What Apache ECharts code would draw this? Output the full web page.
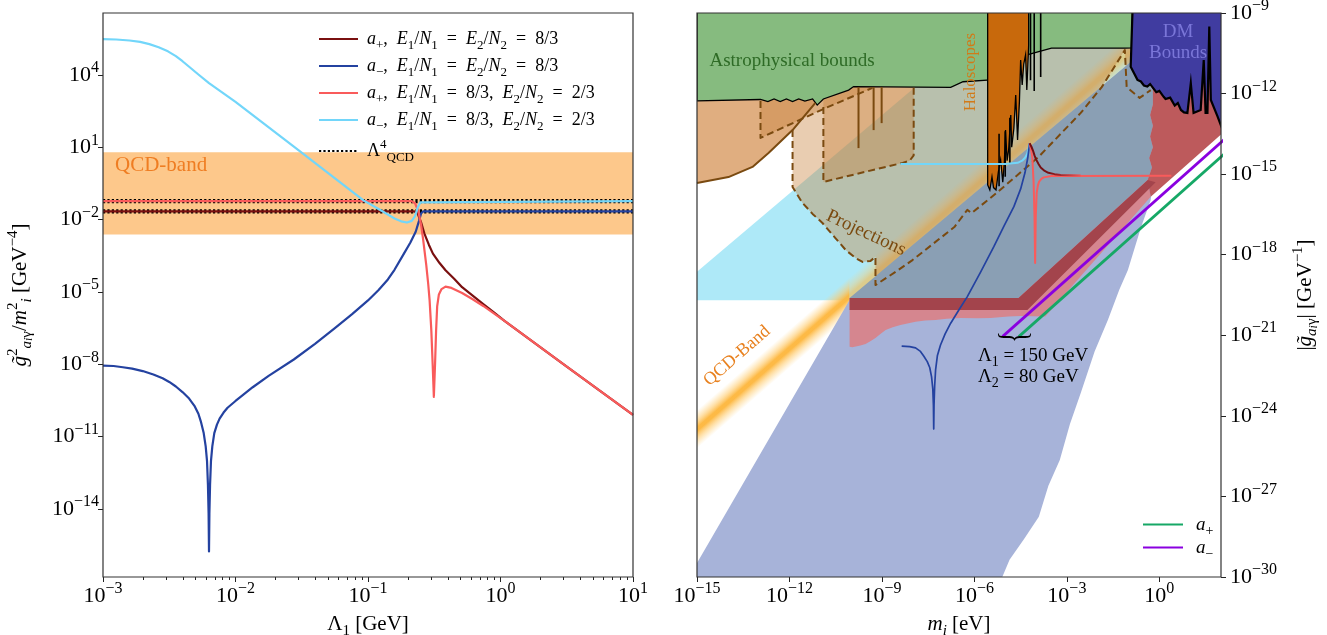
<!DOCTYPE html>
<html>
<head>
<meta charset="utf-8">
<title>axion couplings</title>
<script src="https://cdn.jsdelivr.net/npm/echarts@6.0.0/dist/echarts.min.js"></script>
<style>
  html, body { margin: 0; background: #fff; }
  #chart { width: 1327px; height: 635px; }
</style>
</head>
<body>
<div id="chart"></div>
<script>
// every number here is a log10 exponent

// left panel: g^2/m^2 [GeV^-4] against Lambda_1 [GeV]
const lamTicks = [-3, -2, -1, 0, 1];
const ratioTicks = [-14, -11, -8, -5, -2, 1, 4];
const qcdBandLeft = [-2.62, 0.79];
const lambdaQcdLevels = [-1.23, -1.66];

const plusEqual = [[-3, -1.66], [-0.65, -1.66], [-0.625, -1.75], [-0.6, -2.1], [-0.575, -2.57], [-0.54, -3.05],
  [-0.51, -3.41], [-0.46, -3.8], [-0.415, -4.1], [-0.35, -4.45], [-0.29, -4.8], [-0.21, -5.15], [-0.13, -5.5],
  [-0.05, -5.85], [0.03, -6.2], [0.5, -8.1], [1, -10.1]];
const minusEqual = [[-3, -8.05], [-2.92, -8.07], [-2.85, -8.12], [-2.78, -8.18], [-2.7, -8.28], [-2.62, -8.42],
  [-2.55, -8.58], [-2.5, -8.73], [-2.45, -8.92], [-2.4, -9.15], [-2.35, -9.42], [-2.31, -9.72], [-2.28, -10.05],
  [-2.26, -10.4], [-2.24, -10.85], [-2.225, -11.4], [-2.215, -12.0], [-2.208, -13.0], [-2.203, -14.2], [-2.2, -15.76],
  [-2.197, -14.2], [-2.192, -13.0], [-2.185, -12.0], [-2.175, -11.4], [-2.16, -10.85], [-2.14, -10.5], [-2.12, -10.25],
  [-2.09, -10.0], [-2.06, -9.8], [-2.0, -9.52], [-1.95, -9.3], [-1.87, -8.95], [-1.75, -8.48], [-1.56, -7.8],
  [-1.4, -7.15], [-1.25, -6.5], [-1.12, -5.92], [-1.0, -5.35], [-0.92, -4.92], [-0.85, -4.48], [-0.8, -4.08],
  [-0.73, -3.42], [-0.68, -2.95], [-0.64, -2.5], [-0.615, -2.05], [-0.6, -1.75], [-0.585, -1.66], [1, -1.66]];
const plusSplit = [[-3, -1.23], [-0.67, -1.23], [-0.645, -1.32], [-0.62, -1.65], [-0.6, -2.2], [-0.583, -2.86],
  [-0.56, -3.9], [-0.545, -4.7], [-0.535, -5.35], [-0.522, -6.6], [-0.512, -8.0], [-0.503, -9.35], [-0.494, -8.0],
  [-0.486, -6.6], [-0.478, -5.6], [-0.465, -5.1], [-0.445, -4.88], [-0.415, -4.78], [-0.37, -4.83], [-0.29, -5.04],
  [-0.21, -5.3], [-0.13, -5.58], [-0.05, -5.89], [0.03, -6.2], [0.5, -8.1], [1, -10.1]];
const minusSplit = [[-3, 5.49], [-2.9, 5.47], [-2.8, 5.43], [-2.72, 5.37], [-2.65, 5.28], [-2.58, 5.15], [-2.51, 4.98],
  [-2.45, 4.78], [-2.4, 4.57], [-2.35, 4.34], [-2.28, 4.02], [-2.2, 3.66], [-2.0, 2.88], [-1.557, 1.02],
  [-1.034, -1.2], [-0.907, -1.6], [-0.8, -1.95], [-0.75, -2.07], [-0.706, -2.12], [-0.67, -2.05], [-0.645, -1.85],
  [-0.625, -1.5], [-0.605, -1.28], [-0.59, -1.23], [1, -1.23]];

// right panel: |g| [GeV^-1] against m_i [eV]
const massTicks = [-15, -12, -9, -6, -3, 0];
const couplingTicks = [-30, -27, -24, -21, -18, -15, -12, -9];

const cyanRegion = [[-15, -19.7], [-15, -18.63], [-7.91, -11.75], [-5.2, -9], [-0.5, -9], [-0.3, -15.5], [-4.56, -19.7]];
const tanRegion = [[-15, -12.0], [-15, -15.33], [-13.98, -15.11], [-13.2, -14.73], [-12.68, -14.21], [-11.9, -13.36],
  [-11.16, -12.35], [-10.9, -12.0]];
const tanEdge = [[-15, -15.33], [-13.98, -15.11], [-13.2, -14.73], [-12.68, -14.21], [-11.9, -13.36], [-11.16, -12.35]];
const projMainEdge = [[-11.9, -13.36], [-11.9, -15.48], [-11.58, -16.07], [-11.25, -16.48], [-10.93, -16.82],
  [-10.51, -17.38], [-10.18, -17.82], [-9.86, -18.12], [-9.63, -18.27], [-9.37, -18.23], [-9.21, -18.08],
  [-9.21, -19.13], [-8.56, -18.64], [-8.01, -18.2], [-6.65, -16.97], [-6.23, -16.33], [-6.09, -16.45],
  [-5.28, -15.7], [-3.92, -14.36], [-2.55, -12.72], [-1.87, -11.76], [-1.12, -10.38], [-1.06, -11.76],
  [-0.64, -12.16], [-0.28, -11.87]];
const projMainTop = [[-0.28, -10.0], [-11.16, -10.0], [-11.16, -12.35]];
const projBoxEdge = [[-10.9, -12.5], [-10.9, -15.29], [-8.33, -14.58], [-8.1, -14.5], [-7.97, -14.3], [-7.97, -11.76]];
const projStepEdge = [[-12.94, -12.28], [-12.94, -13.65], [-10.83, -12.54], [-9.31, -11.79]];
const projRods = [[[-9.76, -11.76], [-9.76, -14.03]], [[-9.27, -11.76], [-9.27, -13.36]], [[-9.01, -11.76], [-9.01, -13.1]]];
const lavenderRegion = [[-15, -30.5], [-15, -29.48], [-10.05, -19.69], [-0.93, -10.82], [-0.21, -11.87],
  [-0.21, -15.22], [-0.28, -15.96], [-0.6, -17.0], [-1.02, -18.57], [-1.3, -19.3], [-1.67, -20.43], [-2.1, -21.6],
  [-2.55, -23.15], [-2.9, -24.3], [-3.23, -25.64], [-3.6, -26.6], [-3.91, -27.76], [-4.4, -28.6], [-4.86, -29.36],
  [-5.28, -30.5]];
const slateRegion = [[-10.05, -19.61], [-0.93, -10.82], [-0.21, -11.87], [-0.21, -12.4], [-0.3, -12.8], [-0.21, -13.2],
  [-0.3, -13.6], [-0.21, -14.0], [-0.33, -14.4], [-0.24, -14.75], [-0.38, -15.22], [-4.57, -19.61]];
const pinkRegion = [[-10.05, -19.8], [-10.05, -21.43], [-9.96, -21.45], [-9.7, -21.38], [-9.53, -21.32], [-9.35, -21.2],
  [-9.21, -21.1], [-9.05, -20.95], [-8.88, -20.8], [-8.65, -20.7], [-8.4, -20.62], [-7.91, -20.5], [-7.6, -20.45],
  [-7.26, -20.43], [-6.9, -20.38], [-6.45, -20.36], [-5.9, -20.37], [-5.47, -20.36], [-4.9, -20.3], [-4.5, -20.28],
  [-3.7, -20.3], [-0.28, -15.84], [-0.38, -15.22], [-4.57, -19.61], [-10.05, -19.61]];
const redRegion = [[-0.38, -15.22], [-0.24, -14.75], [-0.33, -14.4], [-0.21, -14.0], [-0.3, -13.6], [-0.21, -13.2],
  [-0.3, -12.8], [-0.21, -12.4], [-0.21, -11.87], [-0.7, -10.9], [2.1, -10.9], [2.1, -13.42], [-0.28, -15.84]];
const redBand = [[-10.05, -19.61], [-4.57, -19.61], [-0.38, -15.22], [-0.12, -15.3], [-4.28, -20.06], [-10.05, -20.06]];
const astroRegion = [[-15, -8.9], [-0.87, -8.9], [-0.9, -10.3], [-1.12, -10.31], [-3.5, -10.31], [-4.53, -10.63],
  [-5.47, -11.49], [-6.37, -11.56], [-6.77, -11.77], [-9.92, -11.74], [-10.08, -11.87], [-10.9, -12.2],
  [-11.1, -12.43], [-11.25, -12.2], [-11.5, -12.28], [-11.7, -12.2], [-11.9, -12.3], [-12.1, -12.2], [-12.3, -12.3],
  [-12.5, -12.2], [-12.7, -12.3], [-12.94, -12.22], [-15, -12.27]];
const haloRegion = [[-5.57, -8.9], [-5.57, -15.4], [-5.5, -15.59], [-5.43, -15.1], [-5.38, -15.5], [-5.3, -15.59],
  [-5.22, -14.9], [-5.15, -14.47], [-5.08, -15.3], [-5.03, -14.6], [-4.99, -13.36], [-4.94, -14.5], [-4.89, -14.1],
  [-4.82, -12.8], [-4.79, -14.0], [-4.72, -13.3], [-4.66, -12.05], [-4.6, -13.73], [-4.54, -12.3], [-4.5, -10.75],
  [-4.45, -11.68], [-4.4, -10.9], [-4.34, -10.56], [-4.3, -11.87], [-4.24, -10.2], [-4.24, -8.9]];
const haloRods = [[[-4.18, -9], [-4.18, -11.5]], [[-4.06, -9], [-4.06, -11.9]], [[-3.85, -9], [-3.85, -11.38]],
  [[-5.2, -13.5], [-5.2, -15.45]], [[-5.0, -13.4], [-5.0, -15.1]], [[-4.85, -12.9], [-4.85, -14.6]]];
const dmRegion = [[-0.87, -8.9], [-0.93, -11.0], [-0.71, -11.49], [-0.6, -11.55], [-0.5, -11.7], [-0.39, -11.74],
  [-0.3, -11.65], [-0.1, -11.95], [0.0, -11.9], [0.14, -12.12], [0.2, -12.2], [0.35, -12.15], [0.5, -12.45],
  [0.6, -12.35], [0.7, -12.61], [0.8, -12.7], [0.91, -12.72], [1.02, -11.61], [1.11, -12.72], [1.34, -12.61],
  [1.44, -10.75], [1.5, -12.72], [1.56, -12.72], [1.62, -9.5], [1.67, -12.24], [1.89, -12.86], [2.1, -13.5], [2.1, -8.9]];
// QCD band centre line: bright part below the blue corner, muted part above it
const qcdBandLow = [[-16, -25.5], [-10.05, -19.55]];
const qcdBandHigh = [[-10.05, -19.55], [-0.9, -10.4]];
const qcdBandHalf = 0.72;

const cyanCurve = [[-8.4, -14.62], [-5.0, -14.62], [-4.6, -14.58], [-4.45, -14.5], [-4.35, -14.38], [-4.29, -14.25],
  [-4.25, -14.08], [-4.21, -13.85]];
const blueCurve = [[-8.36, -21.4], [-8.1, -21.42], [-7.91, -21.47], [-7.75, -21.6], [-7.64, -21.78], [-7.53, -21.98],
  [-7.45, -22.2], [-7.39, -22.55], [-7.35, -23.0], [-7.33, -23.6], [-7.32, -24.49], [-7.31, -23.6], [-7.29, -22.9],
  [-7.26, -22.3], [-7.2, -21.75], [-7.1, -21.36], [-6.95, -20.95], [-6.77, -20.55], [-6.5, -20.05], [-6.23, -19.56],
  [-5.8, -18.65], [-5.37, -17.7], [-5.05, -16.95], [-4.72, -16.21], [-4.5, -15.55], [-4.36, -14.95], [-4.27, -14.4],
  [-4.21, -13.85]];
const darkRedCurve = [[-4.21, -13.85], [-4.15, -13.98], [-4.1, -14.12], [-4.05, -14.3], [-4.0, -14.45], [-3.92, -14.62],
  [-3.85, -14.75], [-3.72, -14.88], [-3.6, -14.95], [-3.4, -15.0], [-3.2, -15.03], [-2.55, -15.05]];
const salmonCurve = [[-4.21, -13.85], [-4.15, -14.15], [-4.12, -14.4], [-4.08, -15.3], [-4.05, -16.6], [-4.03, -18.31],
  [-4.01, -16.6], [-3.98, -15.7], [-3.94, -15.42], [-3.9, -15.28], [-3.82, -15.17], [-3.75, -15.12], [-3.5, -15.07],
  [0.39, -15.06]];
const purpleLine = [[-5.09, -21.05], [2.1, -13.72]];
const greenLine = [[-4.56, -21.05], [2.1, -14.26]];

const SERIF = '"Liberation Serif", "DejaVu Serif", serif';
const BROWN = '#7a4a10';

function mathRich(size) {
  const s = Math.round(size * 0.72);
  const base = { fontFamily: SERIF, color: '#000' };
  return {
    t: { ...base, fontSize: size, lineHeight: size + 8 },
    i: { ...base, fontSize: size, lineHeight: size + 8, fontStyle: 'italic' },
    sb: { ...base, fontSize: s, lineHeight: s + 2, verticalAlign: 'bottom' },
    sbi: { ...base, fontSize: s, lineHeight: s + 2, verticalAlign: 'bottom', fontStyle: 'italic' },
    ssi: { ...base, fontSize: Math.round(size * 0.55), lineHeight: Math.round(size * 0.55), verticalAlign: 'bottom', fontStyle: 'italic' },
    sp: { ...base, fontSize: s, lineHeight: s, verticalAlign: 'top' }
  };
}

const tickRich = {
  b: { fontFamily: SERIF, fontSize: 22, lineHeight: 30, color: '#000' },
  s: { fontFamily: SERIF, fontSize: 16, lineHeight: 16, verticalAlign: 'top', color: '#000' }
};
const pow = (v) => '{b|10}{s|' + (v < 0 ? '\u2212' + (-v) : v) + '}';

const legendText = {
  p83: '{i|a}{sb|+}{t|,  }{i|E}{sb|1}{t|/}{i|N}{sb|1}{t|  =  }{i|E}{sb|2}{t|/}{i|N}{sb|2}{t|  =  8/3}',
  m83: '{i|a}{sb|\u2212}{t|,  }{i|E}{sb|1}{t|/}{i|N}{sb|1}{t|  =  }{i|E}{sb|2}{t|/}{i|N}{sb|2}{t|  =  8/3}',
  p23: '{i|a}{sb|+}{t|,  }{i|E}{sb|1}{t|/}{i|N}{sb|1}{t|  =  8/3,  }{i|E}{sb|2}{t|/}{i|N}{sb|2}{t|  =  2/3}',
  m23: '{i|a}{sb|\u2212}{t|,  }{i|E}{sb|1}{t|/}{i|N}{sb|1}{t|  =  8/3,  }{i|E}{sb|2}{t|/}{i|N}{sb|2}{t|  =  2/3}',
  qcd: '{t|\u039b}{sp|4}{sb|QCD}',
  ap: '{i|a}{sb|+}',
  am: '{i|a}{sb|\u2212}'
};

const L = { xAxisIndex: 0, yAxisIndex: 0 };
const R = { xAxisIndex: 2, yAxisIndex: 1 };

function curve(name, pts, ax, z, color, width, type) {
  return {
    type: 'line', name, data: pts, ...ax, z, symbol: 'none', silent: true,
    lineStyle: { color, width, type: type || 'solid', cap: 'butt', join: 'round' },
    emphasis: { disabled: true }
  };
}

function area(pts, ax, z, fill, stroke, lw) {
  return {
    type: 'custom', ...ax, z, silent: true, clip: true, data: pts, encode: { x: 0, y: 1 },
    renderItem: (params, api) => {
      if (params.dataIndex !== 0) return;
      return {
        type: 'polygon',
        shape: { points: pts.map((p) => api.coord(p)) },
        style: { fill, stroke: stroke || null, lineWidth: lw || 0, lineJoin: 'miter' }
      };
    }
  };
}

function gradientBand(center, half, ax, z, alpha) {
  return {
    type: 'custom', ...ax, z, silent: true, clip: true, data: center, encode: { x: 0, y: 1 },
    renderItem: (params, api) => {
      if (params.dataIndex !== 0) return;
      const [a, b] = center;
      const pts = [[a[0], a[1] + half], [b[0], b[1] + half], [b[0], b[1] - half], [a[0], a[1] - half]].map((p) => api.coord(p));
      const A = api.coord(a);
      const B = api.coord(b);
      const up = api.coord([a[0], a[1] + half]);
      let dx = B[0] - A[0];
      let dy = B[1] - A[1];
      const len = Math.hypot(dx, dy);
      dx /= len; dy /= len;
      const nx = -dy, ny = dx;
      const w = Math.abs((up[0] - A[0]) * nx + (up[1] - A[1]) * ny);
      const fill = new echarts.graphic.LinearGradient(A[0] - nx * w, A[1] - ny * w, A[0] + nx * w, A[1] + ny * w, [
        { offset: 0, color: 'rgba(255,210,120,0)' },
        { offset: 0.25, color: `rgba(255,200,100,${0.55 * alpha})` },
        { offset: 0.45, color: `rgba(253,182,60,${0.95 * alpha})` },
        { offset: 0.55, color: `rgba(253,182,60,${0.95 * alpha})` },
        { offset: 0.75, color: `rgba(255,200,100,${0.55 * alpha})` },
        { offset: 1, color: 'rgba(255,210,120,0)' }
      ], true);
      return { type: 'polygon', shape: { points: pts }, style: { fill } };
    }
  };
}

const lamMinor = [];
lamTicks.slice(0, -1).forEach((d) => { for (let k = 2; k < 10; k++) lamMinor.push(d + Math.log10(k)); });

const axisBase = {
  type: 'value', splitLine: { show: false }, axisLine: { show: false, onZero: false },
  nameTextStyle: { fontFamily: SERIF, fontSize: 21, color: '#000', rich: mathRich(21) }
};
const tickStyle = { lineStyle: { color: '#222', width: 1 } };

const darkRedFade = new echarts.graphic.LinearGradient(0, 0, 1, 0, [
  { offset: 0, color: '#6e0c10' }, { offset: 0.4, color: '#7a1216' }, { offset: 1, color: '#f95b5b' }
]);

const legendBase = {
  orient: 'vertical', itemHeight: 14, selectedMode: false,
  itemStyle: { color: 'rgba(0,0,0,0)', borderColor: 'rgba(0,0,0,0)', borderWidth: 0 },
  formatter: (n) => legendText[n]
};

const option = {
  animation: false,
  backgroundColor: '#fff',
  grid: [
    { left: 103, top: 13, width: 530, height: 564, show: true, z: 50, borderColor: '#333', borderWidth: 1.2, backgroundColor: 'rgba(0,0,0,0)', outerBoundsMode: 'none' },
    { left: 697, top: 13, width: 524, height: 564, show: true, z: 50, borderColor: '#333', borderWidth: 1.2, backgroundColor: 'rgba(0,0,0,0)', outerBoundsMode: 'none' }
  ],
  xAxis: [
    { ...axisBase, gridIndex: 0, min: -3, max: 1,
      axisTick: { ...tickStyle, length: 5, customValues: lamTicks },
      axisLabel: { customValues: lamTicks, formatter: pow, rich: tickRich, margin: 4 },
      name: '{t|\u039b}{sb|1}{t| [GeV]}', nameLocation: 'middle', nameGap: 33 },
    { ...axisBase, gridIndex: 0, min: -3, max: 1, position: 'bottom',
      axisTick: { ...tickStyle, length: 3, customValues: lamMinor },
      axisLabel: { show: false } },
    { ...axisBase, gridIndex: 1, min: -15, max: 2,
      axisTick: { ...tickStyle, length: 5, customValues: massTicks },
      axisLabel: { customValues: massTicks, formatter: pow, rich: tickRich, margin: 4 },
      name: '{i|m}{sbi|i}{t| [eV]}', nameLocation: 'middle', nameGap: 33 }
  ],
  yAxis: [
    { ...axisBase, gridIndex: 0, min: -16.82, max: 6.57,
      axisTick: { ...tickStyle, length: 5, customValues: ratioTicks },
      axisLabel: { customValues: ratioTicks, formatter: pow, rich: tickRich, margin: 4 },
      name: '{i|g\u0303}{sp|2}{sbi|a}{ssi|i}{sb|\u03b3}{t|/}{i|m}{sp|2}{sbi|i}{t| [GeV}{sp|\u22124}{t|]}',
      nameLocation: 'middle', nameRotate: 90, nameGap: 68 },
    { ...axisBase, gridIndex: 1, min: -30, max: -9, position: 'right',
      axisTick: { ...tickStyle, length: 5, customValues: couplingTicks },
      axisLabel: { customValues: couplingTicks, formatter: pow, rich: tickRich, margin: 9 },
      name: '{t||}{i|g\u0303}{sbi|a}{ssi|i}{sb|\u03b3}{t|| [GeV}{sp|\u22121}{t|]}',
      nameLocation: 'middle', nameRotate: 90, nameGap: 70 }
  ],
  legend: [
    { ...legendBase, data: ['p83', 'm83', 'p23', 'm23', 'qcd'], left: 313, top: 25,
      itemWidth: 39, itemGap: 5, textStyle: { rich: mathRich(18), padding: [0, 0, 0, 4] } },
    { ...legendBase, data: ['ap', 'am'], left: 1137, top: 510,
      itemWidth: 40, itemGap: 0, textStyle: { rich: mathRich(19), padding: [0, 0, 0, 8] } }
  ],
  series: [
    // left panel
    area([[-3, qcdBandLeft[0]], [1, qcdBandLeft[0]], [1, qcdBandLeft[1]], [-3, qcdBandLeft[1]]], L, 1, '#fdc88b'),
    curve('qcd', [[-3, lambdaQcdLevels[0]], [1, lambdaQcdLevels[0]]], L, 3, '#000', 4.2, [2.2, 2.2]),
    curve('qcd', [[-3, lambdaQcdLevels[1]], [1, lambdaQcdLevels[1]]], L, 3, '#000', 4.2, [2.2, 2.2]),
    curve('p83', plusEqual, L, 4, '#7a1010', 2.2),
    curve('m83', minusEqual, L, 5, '#2442a0', 2.2),
    curve('p23', plusSplit, L, 6, '#f95b5b', 2.2),
    curve('m23', minusSplit, L, 7, '#72d6fa', 2.2),

    // right panel, back to front
    area(cyanRegion, R, 1, '#aee9f8'),
    area(tanRegion, R, 2, '#e0ae80'),
    gradientBand(qcdBandLow, qcdBandHalf, R, 3, 1),
    gradientBand(qcdBandHigh, qcdBandHalf, R, 3, 0.6),
    area(projMainEdge.concat(projMainTop), R, 4, 'rgba(200,130,60,0.4)'),
    area(projBoxEdge.concat([[-7.97, -11.5], [-10.9, -11.5]]), R, 4, 'rgba(200,130,60,0.4)'),
    area(projStepEdge.concat([[-9.31, -11.5], [-12.94, -11.5]]), R, 4, 'rgba(200,130,60,0.4)'),
    area(lavenderRegion, R, 5, '#a7b3d9'),
    area(slateRegion, R, 6, '#8a9fb4'),
    area(pinkRegion, R, 7, '#d5868f'),
    area(redRegion, R, 8, '#bd5a5c'),
    area(redBand, R, 9, '#a3444c'),
    area(astroRegion, R, 10, '#86bb7f', '#000', 1.3),
    area(haloRegion, R, 11, '#c8690c', '#000', 1.3),
    ...haloRods.map((r) => curve('rod', r, R, 11, '#000', 1.6)),
    area(dmRegion, R, 12, '#403ca0', '#000', 2.2),
    curve('edge', tanEdge, R, 13, BROWN, 2),
    curve('proj', projMainEdge, R, 13, BROWN, 2, [7, 4]),
    curve('proj', projBoxEdge, R, 13, BROWN, 2, [7, 4]),
    curve('proj', projStepEdge, R, 13, BROWN, 2, [7, 4]),
    ...projRods.map((r) => curve('rod', r, R, 13, BROWN, 2)),
    curve('cyan', cyanCurve, R, 14, '#72d6fa', 2),
    curve('blue', blueCurve, R, 14, '#2442a0', 1.7),
    curve('salmon', salmonCurve, R, 14, '#f95b5b', 2),
    curve('darkred', darkRedCurve, R, 15, darkRedFade, 2),
    curve('am', purpleLine, R, 16, '#8a00e0', 2.8),
    curve('ap', greenLine, R, 16, '#16a866', 2.8)
  ],
  graphic: [
    { type: 'text', x: 115, y: 165, z: 100, silent: true,
      style: { text: 'QCD-band', fontFamily: SERIF, fontSize: 21, fill: '#ef7d22', align: 'left', verticalAlign: 'middle' } },
    { type: 'text', x: 792, y: 61, z: 100, silent: true,
      style: { text: 'Astrophysical bounds', fontFamily: SERIF, fontSize: 19, fill: '#2e6b26', align: 'center', verticalAlign: 'middle' } },
    { type: 'text', x: 971, y: 72, rotation: Math.PI / 2, z: 100, silent: true,
      style: { text: 'Haloscopes', fontFamily: SERIF, fontSize: 17, fill: '#d27a17', align: 'center', verticalAlign: 'middle' } },
    { type: 'text', x: 1178, y: 32, z: 100, silent: true,
      style: { text: 'DM', fontFamily: SERIF, fontSize: 19, fill: '#7a76d8', align: 'center', verticalAlign: 'middle' } },
    { type: 'text', x: 1178, y: 53, z: 100, silent: true,
      style: { text: 'Bounds', fontFamily: SERIF, fontSize: 19, fill: '#7a76d8', align: 'center', verticalAlign: 'middle' } },
    { type: 'text', x: 866, y: 233, rotation: -0.435, z: 100, silent: true,
      style: { text: 'Projections', fontFamily: SERIF, fontSize: 19, fill: BROWN, align: 'center', verticalAlign: 'middle' } },
    { type: 'text', x: 737, y: 356, rotation: 0.717, z: 100, silent: true,
      style: { text: 'QCD-Band', fontFamily: SERIF, fontSize: 18, fill: '#e8811f', align: 'center', verticalAlign: 'middle' } },
    { type: 'text', x: 1013, y: 337, rotation: -Math.PI / 2, scaleX: 0.6, z: 100, silent: true,
      style: { text: '}', fontFamily: SERIF, fontSize: 40, fill: '#000', align: 'center', verticalAlign: 'middle' } },
    { type: 'text', x: 978, y: 356, z: 100, silent: true,
      style: { text: '{t|\u039b}{sb|1}{t| = 150 GeV}', rich: mathRich(19), align: 'left', verticalAlign: 'middle' } },
    { type: 'text', x: 978, y: 377, z: 100, silent: true,
      style: { text: '{t|\u039b}{sb|2}{t| = 80 GeV}', rich: mathRich(19), align: 'left', verticalAlign: 'middle' } }
  ]
};

const chart = echarts.init(document.getElementById('chart'));
chart.setOption(option);
</script>
</body>
</html>
